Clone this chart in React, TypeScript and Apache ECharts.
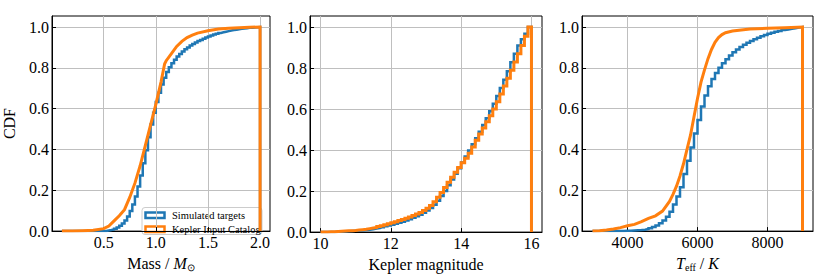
import React, { useEffect, useRef } from "react";
import * as echarts from "echarts";

// ---------- data ----------
// Panel 1: stellar mass
const massBinStart = 0.1;
const massBinWidth = 0.025;
const massSimCdf = [
  0, 0, 0, 0, 0, 0, 0, 0, 0, 0, 0, 0, 0, 0, 0, 0,
  0.001, 0.003, 0.005, 0.008, 0.012, 0.018, 0.026, 0.037, 0.052, 0.072,
  0.098, 0.13, 0.17, 0.218, 0.272, 0.332, 0.396, 0.46, 0.522, 0.58,
  0.632, 0.678, 0.718, 0.752, 0.78, 0.803, 0.823, 0.84, 0.855, 0.868,
  0.88, 0.891, 0.9, 0.909, 0.917, 0.924, 0.931, 0.937, 0.943, 0.949,
  0.954, 0.959, 0.963, 0.967, 0.971, 0.974, 0.977, 0.98, 0.983, 0.985,
  0.987, 0.989, 0.991, 0.993, 0.994, 0.996, 0.997, 0.998, 0.999, 1.0,
];
const massKicX = [0.1, 0.2, 0.3, 0.4, 0.5, 0.55, 0.6, 0.65, 0.7, 0.75, 0.8, 0.85, 0.9, 0.95, 1.0, 1.05, 1.085, 1.1, 1.15, 1.2, 1.25, 1.3, 1.35, 1.4, 1.5, 1.6, 1.7, 1.8, 1.9, 2.0];
const massKicCdf = [0, 0.001, 0.002, 0.004, 0.012, 0.025, 0.05, 0.075, 0.105, 0.165, 0.235, 0.32, 0.42, 0.52, 0.62, 0.73, 0.82, 0.835, 0.87, 0.905, 0.93, 0.948, 0.96, 0.97, 0.982, 0.99, 0.994, 0.997, 0.999, 1.0];

// Panel 2: Kepler magnitude
const magBinStart = 10;
const magBinWidth = 0.1;
const magSimCdf = [
  0, 0.0003, 0.0006, 0.001, 0.0015, 0.002, 0.003, 0.004, 0.005, 0.006,
  0.007, 0.008, 0.01, 0.012, 0.014, 0.017, 0.02, 0.024, 0.028, 0.032,
  0.036, 0.041, 0.046, 0.051, 0.057, 0.063, 0.07, 0.077, 0.085, 0.094,
  0.105, 0.118, 0.134, 0.153, 0.176, 0.201, 0.228, 0.256, 0.284, 0.312,
  0.34, 0.369, 0.398, 0.428, 0.458, 0.49, 0.522, 0.555, 0.59, 0.626,
  0.664, 0.703, 0.743, 0.785, 0.828, 0.87, 0.91, 0.94, 0.968, 1.0,
];
const magKicCdf = [
  0.0005, 0.001, 0.0015, 0.002, 0.003, 0.004, 0.005, 0.006, 0.007, 0.008,
  0.01, 0.012, 0.014, 0.017, 0.02, 0.023, 0.027, 0.031, 0.036, 0.041,
  0.046, 0.051, 0.056, 0.062, 0.068, 0.074, 0.081, 0.088, 0.096, 0.105,
  0.116, 0.13, 0.148, 0.17, 0.193, 0.218, 0.243, 0.268, 0.292, 0.315,
  0.338, 0.36, 0.385, 0.415, 0.448, 0.478, 0.508, 0.538, 0.568, 0.6,
  0.636, 0.674, 0.712, 0.75, 0.79, 0.83, 0.87, 0.91, 0.955, 1.0,
];

// Panel 3: effective temperature
const teffBinStart = 3000;
const teffBinWidth = 100;
const teffSimCdf = [
  0, 0, 0, 0, 0, 0,
  0.0003, 0.0006, 0.001, 0.0015,
  0.002, 0.003, 0.004, 0.005, 0.007, 0.01, 0.014, 0.02, 0.028, 0.038,
  0.052, 0.07, 0.095, 0.13, 0.17, 0.215, 0.28, 0.345, 0.41, 0.478,
  0.545, 0.61, 0.665, 0.71, 0.745, 0.775, 0.8, 0.822, 0.842, 0.86,
  0.876, 0.89, 0.902, 0.913, 0.923, 0.932, 0.94, 0.948, 0.955, 0.961,
  0.967, 0.972, 0.977, 0.981, 0.985, 0.988, 0.991, 0.994, 0.997, 1.0,
];
const teffKicX = [3000, 3200, 3400, 3600, 3800, 4000, 4200, 4400, 4600, 4800, 5000, 5200, 5300, 5400, 5500, 5600, 5700, 5800, 5900, 6000, 6100, 6200, 6300, 6400, 6500, 6600, 6700, 6800, 7000, 7500, 8000, 8500, 9000];
const teffKicCdf = [0, 0.002, 0.005, 0.01, 0.017, 0.026, 0.033, 0.046, 0.062, 0.075, 0.098, 0.145, 0.18, 0.22, 0.27, 0.33, 0.4, 0.47, 0.56, 0.65, 0.73, 0.79, 0.845, 0.89, 0.925, 0.948, 0.963, 0.972, 0.98, 0.99, 0.994, 0.997, 1.0];

const yTicks = [0, 0.2, 0.4, 0.6, 0.8, 1.0];
const massTicks = [0.5, 1.0, 1.5, 2.0];
const magTicks = [10, 12, 14, 16];
const teffTicks = [4000, 6000, 8000];

const seriesNames = ["Simulated targets", "Kepler Input Catalog"];

// ---------- helpers ----------
const FONT = "Liberation Serif";
const BLUE = "#1f77b4";
const ORANGE = "#ff7f0e";
const GRIDC = "#bfbfbf";

function stepLine(start: number, width: number, cdf: number[]) {
  const pts: number[][] = [[start, 0]];
  cdf.forEach((c, i) => {
    pts.push([start + i * width, c], [start + (i + 1) * width, c]);
  });
  pts.push([start + cdf.length * width, 0]);
  return pts;
}
function curveLine(xs: number[], ys: number[]) {
  const pts: number[][] = [[xs[0], 0]];
  xs.forEach((x, i) => pts.push([x, ys[i]]));
  pts.push([xs[xs.length - 1], 0]);
  return pts;
}

const nameRich = {
  n: { fontFamily: FONT, fontSize: 16, color: "#000", lineHeight: 18, verticalAlign: "middle" },
  it: { fontFamily: FONT, fontSize: 16, fontStyle: "italic", color: "#000", lineHeight: 18, verticalAlign: "middle" },
  sub: { fontFamily: FONT, fontSize: 10, color: "#000", lineHeight: 8, verticalAlign: "bottom" },
};

function xAxisFor(i: number, min: number, max: number, ticks: number[], fmt: (v: number) => string, name: string) {
  return {
    type: "value",
    gridIndex: i,
    min,
    max,
    position: "bottom",
    axisLine: { show: true, onZero: false, lineStyle: { color: "#000", width: 1 } },
    axisTick: { show: true, inside: true, length: 4, customValues: ticks, lineStyle: { color: "#000" } },
    axisLabel: { customValues: ticks, formatter: fmt, margin: 3, color: "#000", fontFamily: FONT, fontSize: 16 },
    splitLine: { show: true, lineStyle: { color: GRIDC, width: 1 } },
    name,
    nameLocation: "middle",
    nameGap: 12,
    nameTextStyle: { fontFamily: FONT, fontSize: 16, color: "#000", rich: nameRich },
  };
}
function yAxisFor(i: number) {
  return {
    type: "value",
    gridIndex: i,
    min: 0,
    max: 1.054,
    axisLine: { show: true, onZero: false, lineStyle: { color: "#000", width: 1 } },
    axisTick: { show: true, inside: true, length: 4, customValues: yTicks, lineStyle: { color: "#000" } },
    axisLabel: { customValues: yTicks, formatter: (v: number) => v.toFixed(1), margin: 3, color: "#000", fontFamily: FONT, fontSize: 16 },
    splitLine: { show: true, lineStyle: { color: GRIDC, width: 1 } },
    name: i === 0 ? "CDF" : "",
    nameLocation: "middle",
    nameGap: 35,
    nameTextStyle: { fontFamily: FONT, fontSize: 16, color: "#000" },
  };
}

function lineSeries(i: number, name: string, data: number[][], color: string, width: number, z: number) {
  return {
    type: "line",
    name,
    xAxisIndex: i,
    yAxisIndex: i,
    data,
    symbol: "none",
    showSymbol: false,
    silent: true,
    z,
    lineStyle: { color, width, join: "miter" },
  };
}

export default function App() {
  const ref = useRef<HTMLDivElement>(null);
  useEffect(() => {
    if (!ref.current) return;
    const chart = echarts.init(ref.current, undefined, { renderer: "svg" });
    const gridBase = { top: 16, height: 227, show: true, borderColor: "#000", borderWidth: 1, backgroundColor: "transparent" };
    const option = {
      animation: false,
      backgroundColor: "#fff",
      textStyle: { fontFamily: FONT },
      grid: [
        { ...gridBase, left: 39, width: 231 },
        { ...gridBase, left: 310, width: 232 },
        { ...gridBase, left: 582, width: 231 },
      ],
      xAxis: [
        xAxisFor(0, 0.005, 2.095, massTicks, (v: number) => v.toFixed(1), "Mass / {it|M}{sub|⊙}"),
        xAxisFor(1, 9.7, 16.3, magTicks, (v: number) => String(Math.round(v)), "Kepler magnitude"),
        xAxisFor(2, 2700, 9300, teffTicks, (v: number) => String(Math.round(v)), "{it|T}{sub|eff}{n| / }{it|K}"),
      ],
      yAxis: [yAxisFor(0), yAxisFor(1), yAxisFor(2)],
      series: [
        lineSeries(0, seriesNames[0], stepLine(massBinStart, massBinWidth, massSimCdf), BLUE, 2.5, 3),
        lineSeries(0, seriesNames[1], curveLine(massKicX, massKicCdf), ORANGE, 3, 4),
        lineSeries(1, seriesNames[0], stepLine(magBinStart, magBinWidth, magSimCdf), BLUE, 2.5, 3),
        lineSeries(1, seriesNames[1], stepLine(magBinStart, magBinWidth, magKicCdf), ORANGE, 3, 4),
        lineSeries(2, seriesNames[0], stepLine(teffBinStart, teffBinWidth, teffSimCdf), BLUE, 2.5, 3),
        lineSeries(2, seriesNames[1], curveLine(teffKicX, teffKicCdf), ORANGE, 3, 4),
      ],
      graphic: [
        {
          type: "group",
          z: 100,
          children: [
            { type: "rect", shape: { x: 142, y: 207.5, width: 120, height: 27, r: 3 }, style: { fill: "rgba(255,255,255,0.85)", stroke: "#cccccc", lineWidth: 1 } },
            { type: "rect", shape: { x: 145.5, y: 212.5, width: 19, height: 5.5 }, style: { fill: "#fff", stroke: BLUE, lineWidth: 2.5 } },
            { type: "rect", shape: { x: 145.5, y: 226.5, width: 19, height: 5.5 }, style: { fill: "#fff", stroke: ORANGE, lineWidth: 2.5 } },
            { type: "text", x: 172, y: 215.5, style: { text: seriesNames[0], fontFamily: FONT, fontSize: 10.5, fill: "#000", verticalAlign: "middle" } },
            { type: "text", x: 172, y: 229.5, style: { text: seriesNames[1], fontFamily: FONT, fontSize: 10.5, fill: "#000", verticalAlign: "middle" } },
          ],
        },
      ],
    };
    chart.setOption(option as any);
    return () => chart.dispose();
  }, []);
  return <div ref={ref} style={{ position: "fixed", left: 0, top: 0, width: 830, height: 277 }} />;
}
